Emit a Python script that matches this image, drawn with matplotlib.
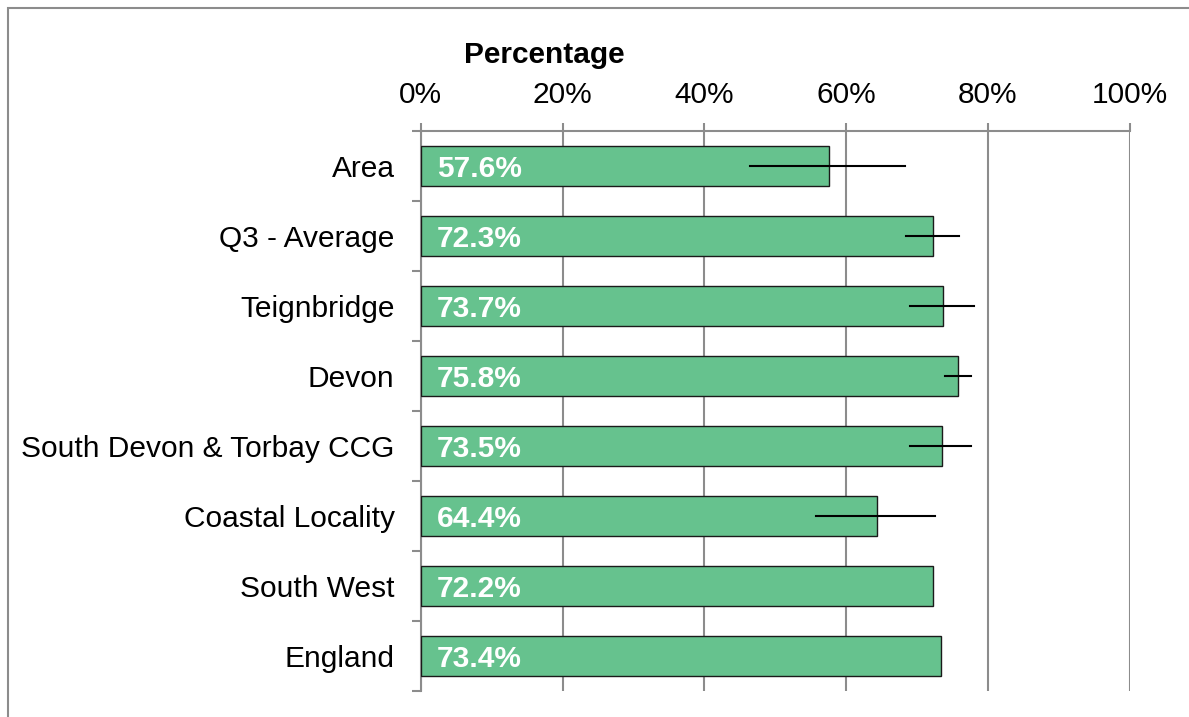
import matplotlib.pyplot as plt
from matplotlib.patches import Rectangle
from matplotlib.ticker import FixedLocator

plt.rcParams['font.family'] = ['Liberation Sans', 'DejaVu Sans']

areas = ['Area', 'Q3 - Average', 'Teignbridge', 'Devon',
         'South Devon & Torbay CCG', 'Coastal Locality', 'South West', 'England']
values = [57.6, 72.3, 73.7, 75.8, 73.5, 64.4, 72.2, 73.4]
ci_low = [46.4, 68.4, 69.0, 73.9, 69.0, 55.7, None, None]
ci_high = [68.3, 75.9, 78.1, 77.6, 77.6, 72.5, None, None]
xticks = [0, 20, 40, 60, 80, 100]

grey = '#8c8c8c'
fs = 21.5
fig = plt.figure(figsize=(11.89, 7.17), dpi=100)
ax = fig.add_axes([0.354, 0.0363, 0.596, 0.781])

ys = list(range(len(areas)))
ax.barh(ys, values, height=0.58, color='#66c28e', edgecolor='#1a1a1a',
        linewidth=1.0, zorder=3)

for y, lo, hi in zip(ys, ci_low, ci_high):
    if lo is not None:
        ax.plot([lo, hi], [y, y], color='black', lw=1.5, zorder=4)

for y, v in zip(ys, values):
    ax.text(2.3, y + 0.05, f'{v:.1f}%', color='white', fontsize=fs, fontweight='bold',
            va='center', ha='left', zorder=5)

ax.set_xlim(0, 100)
ax.set_ylim(len(areas) - 0.5, -0.5)
ax.xaxis.tick_top()
ax.set_xticks(xticks)
ax.set_xticklabels([f'{t}%' for t in xticks], fontsize=fs)
ax.tick_params(axis='x', direction='out', length=6, color=grey, width=1.5, pad=10)
ax.set_yticks(ys)
ax.set_yticklabels(areas, fontsize=fs)
ax.tick_params(axis='y', which='major', length=0, pad=19)
ax.yaxis.set_minor_locator(FixedLocator([i - 0.5 for i in range(len(areas) + 1)]))
ax.tick_params(axis='y', which='minor', length=6.5, color=grey, width=1.5)
ax.grid(axis='x', color=grey, lw=1.5, zorder=0)

for s in ['right', 'bottom']:
    ax.spines[s].set_visible(False)
for s in ['top', 'left']:
    ax.spines[s].set_color(grey)
    ax.spines[s].set_linewidth(1.5)

fig.text(544 / 1189, 1 - 55 / 717, 'Percentage', fontsize=fs, fontweight='bold',
         ha='center', va='center')

# outer chart frame
fig.patches.append(Rectangle((8 / 1189, -0.1), 1.2, 1 - 8 / 717 + 0.1,
                             transform=fig.transFigure, fill=False,
                             edgecolor=grey, lw=1.5))

fig.savefig('out.png', dpi=100)
